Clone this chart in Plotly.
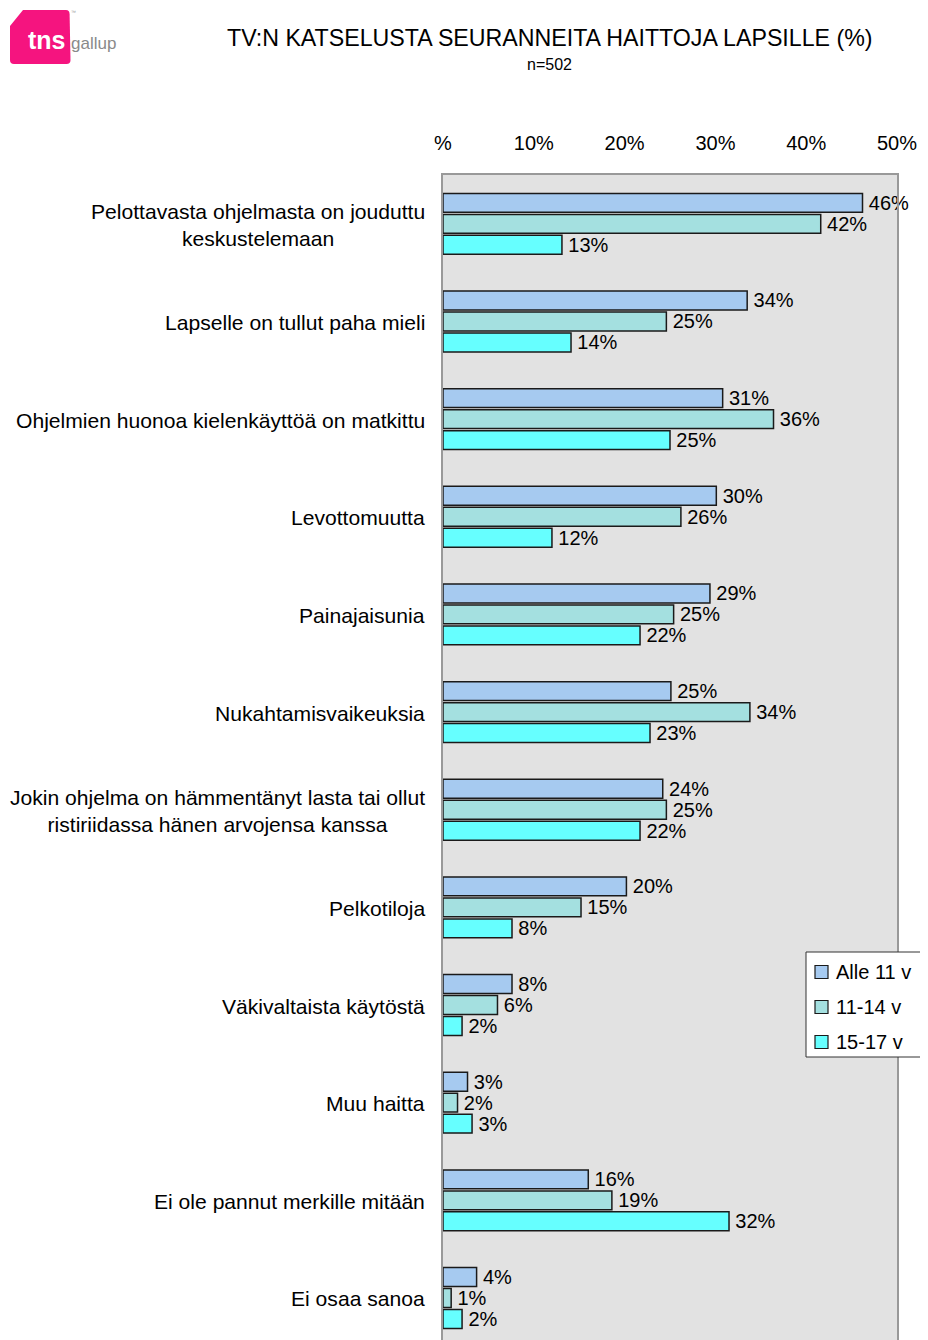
import plotly.graph_objects as go

# ---------------- data ----------------
categories = [
    "Pelottavasta ohjelmasta on jouduttu<br>keskustelemaan",
    "Lapselle on tullut paha mieli",
    "Ohjelmien huonoa kielenkäyttöä on matkittu",
    "Levottomuutta",
    "Painajaisunia",
    "Nukahtamisvaikeuksia",
    "Jokin ohjelma on hämmentänyt lasta tai ollut<br>ristiriidassa hänen arvojensa kanssa",
    "Pelkotiloja",
    "Väkivaltaista käytöstä",
    "Muu haitta",
    "Ei ole pannut merkille mitään",
    "Ei osaa sanoa",
]
series_names = ["Alle 11 v", "11-14 v", "15-17 v"]

# bar lengths (%)
alle11 = [46.2, 33.5, 30.8, 30.1, 29.4, 25.1, 24.2, 20.2, 7.6, 2.7, 16.0, 3.7]
v11_14 = [41.6, 24.6, 36.4, 26.2, 25.4, 33.8, 24.6, 15.2, 6.0, 1.6, 18.6, 0.9]
v15_17 = [13.1, 14.1, 25.0, 12.0, 21.7, 22.8, 21.7, 7.6, 2.1, 3.2, 31.5, 2.1]

# printed labels (%)
lab_alle11 = [46, 34, 31, 30, 29, 25, 24, 20, 8, 3, 16, 4]
lab_11_14 = [42, 25, 36, 26, 25, 34, 25, 15, 6, 2, 19, 1]
lab_15_17 = [13, 14, 25, 12, 22, 23, 22, 8, 2, 3, 32, 2]

tick_vals = [0, 10, 20, 30, 40, 50]
tick_text = ["%", "10%", "20%", "30%", "40%", "50%"]

colors = ["#a6caf0", "#a4e0e0", "#66ffff"]

FONT = "Arial, Liberation Sans, sans-serif"

# ---------------- layout geometry (pixels) ----------------
OFF = 8                      # page body margin
W_FIG, H_FIG = 928 - OFF, 1340 - OFF
L, T, PW = 443 - OFF, 175 - OFF, 454
PH = H_FIG - T
SLOT = 97.65                 # pixels per category


def px(x):
    """reference page x pixel -> paper coordinate"""
    return (x - OFF - L) / PW


def py(y):
    """reference page y pixel -> paper coordinate"""
    return 1 - (y - OFF - T) / PH


fig = go.Figure()
for name, vals, labs, col in zip(series_names, [alle11, v11_14, v15_17],
                                 [lab_alle11, lab_11_14, lab_15_17], colors):
    fig.add_trace(go.Bar(
        name=name,
        y=categories,
        x=vals,
        orientation="h",
        marker=dict(color=col, line=dict(color="#1a1a1a", width=1.5)),
        text=[f"\u2006{v}%" for v in labs],
        textposition="outside",
        textfont=dict(family=FONT, size=20, color="#000000"),
        cliponaxis=False,
        constraintext="none",
        hoverinfo="skip",
        showlegend=False,
    ))

fig.update_layout(
    width=W_FIG, height=H_FIG,
    margin=dict(l=L, r=W_FIG - L - PW, t=T, b=0, pad=0),
    paper_bgcolor="white",
    plot_bgcolor="#e2e2e2",
    barmode="group",
    bargap=0.355,
    bargroupgap=0.1,
    font=dict(family=FONT, size=20, color="#000000"),
    showlegend=False,
    xaxis=dict(
        side="top", range=[0, 50], tickvals=tick_vals, ticktext=tick_text,
        showgrid=False, zeroline=False, ticks="", ticklabelstandoff=15,
        showline=True, linecolor="#999999", linewidth=1.5, mirror=False,
        tickfont=dict(family=FONT, size=20, color="#000000"),
        fixedrange=True,
    ),
    yaxis=dict(
        categoryorder="array", categoryarray=categories,
        range=[-0.5 + PH / SLOT, -0.5],
        showticklabels=False, showgrid=False, zeroline=False, ticks="",
        showline=True, linecolor="#999999", linewidth=1.5, mirror=True,
        fixedrange=True,
    ),
)

annotations = []
for c in categories:
    annotations.append(dict(
        x=0, xref="paper", y=c, yref="y", xanchor="right", yanchor="middle",
        xshift=-16, yshift=-1, text=c, showarrow=False, align="center",
        font=dict(family=FONT, size=21.1, color="#000000"),
    ))

# title and subtitle
annotations.append(dict(
    x=px(549.5), y=py(38), xref="paper", yref="paper", xanchor="center", yanchor="middle",
    text="TV:N KATSELUSTA SEURANNEITA HAITTOJA LAPSILLE (%)", showarrow=False,
    font=dict(family=FONT, size=23.2, color="#000000"),
))
annotations.append(dict(
    x=px(549), y=py(64), xref="paper", yref="paper", xanchor="center", yanchor="middle",
    text="n=502", showarrow=False,
    font=dict(family=FONT, size=16, color="#000000"),
))

# logo texts
annotations.append(dict(
    x=px(47), y=py(40), xref="paper", yref="paper", xanchor="center", yanchor="middle",
    text="<b>tns</b>", showarrow=False,
    font=dict(family="Arial, Liberation Sans", size=25, color="#ffffff"),
))
annotations.append(dict(
    x=px(69), y=py(44), xref="paper", yref="paper", xanchor="left", yanchor="middle",
    text="gallup", showarrow=False,
    font=dict(family=FONT, size=17, color="#8a8a8a"),
))
annotations.append(dict(
    x=px(69), y=py(12), xref="paper", yref="paper", xanchor="left", yanchor="middle",
    text="™", showarrow=False,
    font=dict(family=FONT, size=5, color="#999999"),
))

# custom legend (box open on the right, swatches, labels)
lx0, lx1, ly0, ly1 = 806, 928, 952, 1057
leg_rows = [972, 1007, 1042]
leg_line = dict(color="#333333", width=1)
shapes = [
    dict(type="rect", xref="paper", yref="paper",
         x0=px(lx0), x1=px(lx1), y0=py(ly1), y1=py(ly0),
         fillcolor="white", line=dict(width=0), layer="above"),
    dict(type="line", xref="paper", yref="paper", x0=px(lx0), x1=px(lx1),
         y0=py(ly0), y1=py(ly0), line=leg_line, layer="above"),
    dict(type="line", xref="paper", yref="paper", x0=px(lx0), x1=px(lx1),
         y0=py(ly1), y1=py(ly1), line=leg_line, layer="above"),
    dict(type="line", xref="paper", yref="paper", x0=px(lx0), x1=px(lx0),
         y0=py(ly0), y1=py(ly1), line=leg_line, layer="above"),
]
for name, col, yc in zip(series_names, colors, leg_rows):
    shapes.append(dict(type="rect", xref="paper", yref="paper",
                       x0=px(815), x1=px(828), y0=py(yc + 6.5), y1=py(yc - 6.5),
                       fillcolor=col, line=dict(color="#1a1a1a", width=1.2), layer="above"))
    annotations.append(dict(
        x=px(834), y=py(yc), xref="paper", yref="paper", xanchor="left", yanchor="middle",
        text=name, showarrow=False, font=dict(family=FONT, size=20, color="#000000"),
    ))

fig.update_layout(annotations=annotations)


def pt(x, y):
    return f"{px(x):.5f},{py(y):.5f}"


logo_path = (
    f"M {pt(10, 26)} L {pt(23, 10)} L {pt(66, 10)} Q {pt(69.5, 10)} {pt(69.6, 14)} "
    f"L {pt(70.5, 60)} Q {pt(70.5, 64)} {pt(66.5, 64)} L {pt(14, 64)} "
    f"Q {pt(10, 64)} {pt(10, 60)} Z"
)
shapes.append(dict(type="path", path=logo_path, xref="paper", yref="paper",
                   fillcolor="#f5147f", line=dict(width=0), layer="below"))
fig.update_layout(shapes=shapes)

fig.write_html("out.html")
